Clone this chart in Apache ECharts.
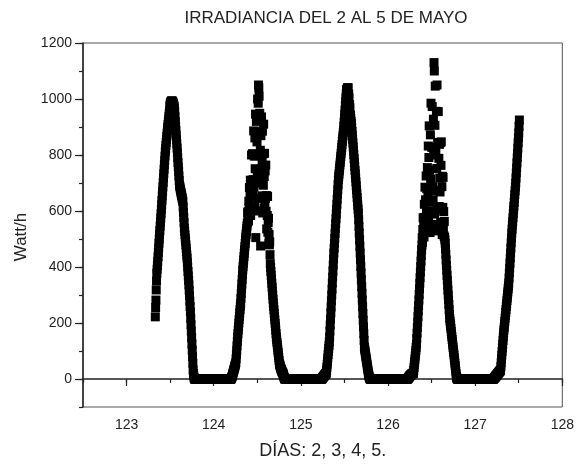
<!DOCTYPE html>
<html>
<head>
<meta charset="utf-8">
<script src="https://cdn.jsdelivr.net/npm/echarts@6/dist/echarts.min.js"></script>
<style>
html,body{margin:0;padding:0;background:#ffffff;}
#chart{width:577px;height:466px;}
</style>
</head>
<body>
<div id="chart"></div>
<script>
// ---- data (5-minute samples, Watt/h) ----
const samplesPerDay = 288;
const dayStart = [123, 124, 125, 126, 127];
const firstSample = [95, 0, 0, 0, 0];

const day123 = [
222,255,282,318,350,378,392,405,420,436,
452,468,485,500,516,530,546,560,575,590,
606,622,638,654,670,686,702,718,733,749,
765,780,796,811,822,834,845,856,867,878,
889,899,909,918,928,938,948,958,975,982,
986,988,990,992,993,993,992,990,988,985,
982,978,974,968,955,937,920,903,887,871,
855,840,825,808,790,773,757,741,725,709,
693,688,682,676,671,665,660,655,650,644,
639,634,615,596,577,558,539,527,515,503,
491,479,467,455,443,432,416,400,384,368,
352,336,317,298,278,259,240,217,194,171,
148,125,103,80,56,32,20,12,6,2,
0,0,0,0,0,0,0,0,0,0,0,0,0,0,0,0,0,0,0,0,
0,0,0,0,0,0,0,0,0,0,0,0,0,0,0,0,0,0,0,0,
0,0,0,0,0,0,0,0,0,0,0,0,0,0,0,0,0,0,0,0,
0,0,0
];

const day124 = [
0,0,0,0,0,0,0,0,0,0,0,0,0,0,0,0,0,0,0,0,
0,0,0,0,0,0,0,0,0,0,0,0,0,0,0,0,0,0,0,0,
0,0,0,0,0,0,0,0,0,0,0,0,0,0,0,0,0,0,
2,4,7,10,14,18,22,26,30,34,38,42,46,50,54,58,
72,87,102,118,134,150,162,175,187,200,
212,224,236,248,260,271,288,305,322,339,
356,372,389,401,413,425,437,449,461,473,
484,496,507,517,527,537,547,557,
594,566,598,564,635,612,684,593,653,710,
584,699,650,800,616,710,804,655,804,712,
886,685,796,617,861,751,946,505,797,920,
600,847,725,1000,645,985,1050,1040,1010,748,
949,700,817,475,869,751,936,654,781,885,
593,804,692,910,611,723,806,621,743,645,
764,599,655,536,653,584,652,524,559,574,
484,516,479,490,444,
412,398,384,370,356,342,328,314,299,285,
271,259,247,235,223,211,199,187,175,162,
150,140,131,122,113,103,94,85,76,66,
57,52,48,44,40,37,34,31,28,26,
24,22,20,16,12,8,5,2,
0,0,0,0,0,0,0,0,0,0,0,0,0,0,0,0,0,0,0,0,
0,0,0,0,0,0,0,0,0,0,0,0,0,0,0,0,0,0,0,0,
0,0,0,0,0,0,0,0,0,0,0,0,0
];

const day125 = [
0,0,0,0,0,0,0,0,0,0,0,0,0,0,0,0,0,0,0,0,
0,0,0,0,0,0,0,0,0,0,0,0,0,0,0,0,0,0,0,0,
0,0,0,0,0,0,0,0,0,0,0,0,0,0,0,0,0,0,0,0,
0,0,0,0,0,0,0,0,0,0,
2,3,4,6,7,9,10,12,13,15,16,17,18,20,21,
31,42,53,64,75,87,98,109,120,132,
150,171,193,214,236,257,279,300,321,343,364,386,407,429,450,
467,485,502,520,537,555,572,589,607,624,642,659,676,694,711,
722,732,743,753,764,774,785,795,806,816,827,837,848,858,868,879,889,
903,917,932,946,960,975,990,1004,1018,1032,1035,990,1039,1040,1040,
1000,1018,1005,960,980,968,930,943,930,920,912,
898,884,870,856,843,829,815,801,787,773,759,745,732,718,704,690,676,662,648,634,621,607,593,
569,545,521,497,474,450,426,402,378,354,330,306,282,258,234,210,186,162,138,114,
107,100,93,86,79,72,65,58,51,44,37,30,22,16,11,7,4,2,
0,0,0,0,0,0,0,0,0,0,0,0,0,0,0,0,0,0,0,0,
0,0,0,0,0,0,0,0,0,0,0,0,0,0,0,0,0,0,0,0,
0,0,0,0,0,0,0,0,0,0,0,0,0,0,0,0,0,0,0
];

const day126 = [
0,0,0,0,0,0,0,0,0,0,0,0,0,0,0,0,0,0,0,0,
0,0,0,0,0,0,0,0,0,0,0,0,0,0,0,0,0,0,0,0,
0,0,0,0,0,0,0,0,0,0,0,0,0,0,0,0,0,0,0,0,
0,0,0,0,0,0,
2,3,5,6,8,9,11,12,13,14,15,16,17,18,19,19,20,21,21,
31,41,51,61,71,82,92,102,113,125,
145,164,184,203,223,243,262,282,302,322,
342,362,382,402,421,441,461,
478,505,488,534,576,527,566,507,624,577,
685,540,640,523,725,596,680,580,755,680,
650,832,561,791,904,631,745,523,872,714,
985,599,828,552,973,687,827,639,928,800,
1130,1100,589,906,1046,671,814,529,956,752,
1050,608,845,552,955,673,788,616,838,718,
668,844,559,763,847,607,687,516,724,613,
720,536,598,511,563,506,497,
485,465,445,425,406,388,370,353,335,317,
300,283,266,248,231,216,207,198,189,180,
170,160,151,141,132,122,113,104,95,86,
76,67,57,48,38,28,19,10,5,2,
0,0,0,0,0,0,0,0,0,0,0,0,0,0,0,0,0,0,0,0,
0,0,0,0,0,0,0,0,0,0,0,0,0,0,0,0,0,0,0,0,
0,0,0,0,0,0,0,0,0,0,0,0,0,0,0,0,0,0,0
];

const day127 = [
0,0,0,0,0,0,0,0,0,0,0,0,0,0,0,0,0,0,0,0,
0,0,0,0,0,0,0,0,0,0,0,0,0,0,0,0,0,0,0,0,
0,0,0,0,0,0,0,0,0,0,0,0,0,0,0,0,0,0,0,0,
0,0,
2,3,4,5,7,8,10,11,12,14,15,17,18,19,21,22,23,25,26,27,29,30,32,
45,58,72,85,98,111,124,138,151,164,
175,185,196,206,217,227,238,248,259,269,280,290,301,311,322,332,343,
361,379,396,414,432,450,468,486,503,521,
535,549,562,576,590,604,617,631,645,659,672,686,700,
718,736,754,772,790,807,825,843,861,879,902,925
];

const xTickValues = [123, 124, 125, 126, 127, 128];
const yTickValues = [0, 200, 400, 600, 800, 1000, 1200];
const titleText = 'IRRADIANCIA DEL 2 AL 5 DE MAYO';
const xName = 'DÍAS: 2, 3, 4, 5.';
const yName = 'Watt/h';

// ---- build points ----
const days = [day123, day124, day125, day126, day127];
const points = [];
days.forEach(function (vals, d) {
  vals.forEach(function (v, i) {
    points.push([dayStart[d] + (firstSample[d] + i) / samplesPerDay, v]);
  });
});

const FONT = '"Liberation Sans", Arial, sans-serif';
const TXT = '#222';
const chart = echarts.init(document.getElementById('chart'), null, {renderer: 'canvas'});
chart.setOption({
  animation: false,
  backgroundColor: '#ffffff',
  title: {
    text: titleText,
    left: 321,
    top: 5,
    textAlign: 'center',
    textStyle: {fontFamily: FONT, fontSize: 17, fontWeight: 'normal', color: TXT}
  },
  grid: {
    left: 83, right: 13, top: 43, bottom: 59,
    show: true, borderColor: '#555', borderWidth: 1, backgroundColor: 'transparent'
  },
  xAxis: [{
    type: 'value', min: 122.5, max: 128, interval: 0.5,
    position: 'bottom',
    name: xName, nameLocation: 'middle', nameGap: 35,
    nameTextStyle: {fontFamily: FONT, fontSize: 18, color: TXT},
    axisLine: {show: true, lineStyle: {color: '#222', width: 1.5}},
    axisTick: {show: true, length: 4, lineStyle: {color: '#222', width: 1.2}},
    axisLabel: {
      fontFamily: FONT, fontSize: 14, color: TXT, margin: 11,
      formatter: function (v) { return xTickValues.indexOf(v) >= 0 ? String(v) : ''; }
    },
    splitLine: {show: false}
  }, {
    type: 'value', min: 122.5, max: 128,
    position: 'bottom',
    axisLine: {show: false},
    axisTick: {show: true, length: 7, customValues: xTickValues, lineStyle: {color: '#222', width: 1.2}},
    axisLabel: {show: false},
    splitLine: {show: false}
  }],
  yAxis: [{
    type: 'value', min: -100, max: 1200, interval: 100,
    position: 'left',
    name: yName, nameLocation: 'middle', nameGap: 52,
    nameTextStyle: {fontFamily: FONT, fontSize: 17, color: TXT, padding: [0, 24, 0, 0]},
    axisLine: {show: true, lineStyle: {color: '#222', width: 1.5}},
    axisTick: {show: true, length: 4, lineStyle: {color: '#222', width: 1.2}},
    axisLabel: {
      fontFamily: FONT, fontSize: 14, color: TXT, margin: 11,
      formatter: function (v) { return yTickValues.indexOf(v) >= 0 ? String(v) : ''; }
    },
    splitLine: {show: false}
  }, {
    type: 'value', min: -100, max: 1200,
    position: 'left',
    axisLine: {show: false},
    axisTick: {show: true, length: 8, customValues: yTickValues, lineStyle: {color: '#222', width: 1.2}},
    axisLabel: {show: false},
    splitLine: {show: false}
  }],
  series: [{
    type: 'scatter',
    xAxisIndex: 0, yAxisIndex: 0,
    symbol: 'rect',
    symbolSize: 9,
    itemStyle: {color: '#000000', opacity: 1},
    data: points
  }]
});
</script>
</body>
</html>
